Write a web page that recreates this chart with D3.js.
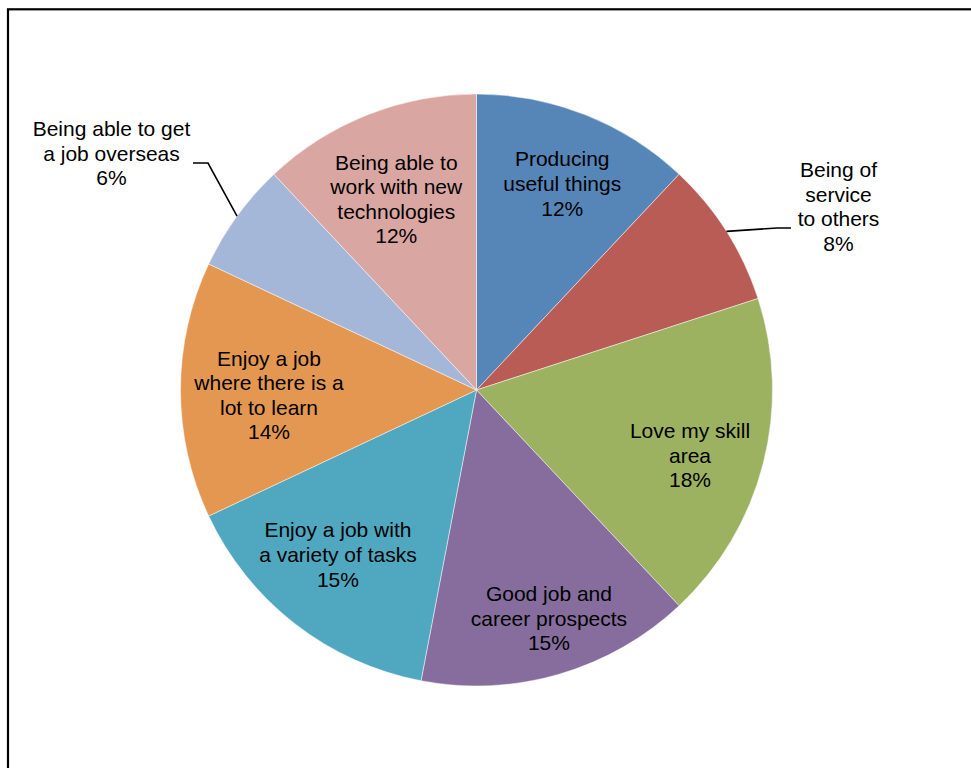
<!DOCTYPE html>
<html>
<head>
<meta charset="utf-8">
<script src="https://cdn.jsdelivr.net/npm/d3@7"></script>
<style>
  html, body { margin: 0; padding: 0; background: #ffffff; }
  svg { display: block; }
  text { font-family: "Liberation Sans", Arial, sans-serif; fill: #000; }
</style>
</head>
<body>
<svg id="chart" width="971" height="768"></svg>
<script>
// Reasons for liking the work, share of responses (%), clockwise from 12 o'clock
const categories = [
  "Producing useful things",
  "Being of service to others",
  "Love my skill area",
  "Good job and career prospects",
  "Enjoy a job with a variety of tasks",
  "Enjoy a job where there is a lot to learn",
  "Being able to get a job overseas",
  "Being able to work with new technologies"
];
const values = [12, 8, 18, 15, 15, 14, 6, 12];

// Label text as wrapped in the chart (percentage line appended when drawn)
const labelLines = [
  ["Producing", "useful things"],
  ["Being of", "service", "to others"],
  ["Love my skill", "area"],
  ["Good job and", "career prospects"],
  ["Enjoy a job with", "a variety of tasks"],
  ["Enjoy a job", "where there is a", "lot to learn"],
  ["Being able to get", "a job overseas"],
  ["Being able to", "work with new", "technologies"]
];

const colors = ["#5685B8", "#B95C56", "#9CB260", "#866D9E", "#50A8C0", "#E39750", "#A5B7D8", "#DAA6A2"];

// ---- layout ----
const width = 971, height = 768;
const cx = 476.5, cy = 390, radius = 296;
const fontSize = 21, lineHeight = 24.6, capHeight = 15;
const labelRadius = 222;

// Inside labels: small nudges from the slice's centroid at labelRadius.
// Outside labels (with leader lines): elbow point, leader end and label centre.
const labelLayout = [
  { nudge: [4, 0] },
  { outside: true, elbow: [777, 228], end: [791, 228], center: [838.5, 206.5] },
  { nudge: [-1.5, 10] },
  { nudge: [10.5, 15] },
  { nudge: [-2.5, -11] },
  { nudge: [14.5, 5] },
  { outside: true, elbow: [208, 163], end: [193, 163], center: [111.5, 153] },
  { nudge: [1.5, 15.5] }
];

const svg = d3.select("#chart");

// Chart frame
svg.append("rect")
  .attr("x", 8).attr("y", 9.3)
  .attr("width", 1000).attr("height", 800)
  .attr("fill", "#fff")
  .attr("stroke", "#000")
  .attr("stroke-width", 2.2);

const pie = d3.pie().sort(null).value(d => d)(values);
const arc = d3.arc().innerRadius(0).outerRadius(radius);
const labelArc = d3.arc().innerRadius(labelRadius).outerRadius(labelRadius);
const edgeArc = d3.arc().innerRadius(radius).outerRadius(radius);

const g = svg.append("g").attr("transform", `translate(${cx},${cy})`);

g.selectAll("path.slice")
  .data(pie)
  .join("path")
  .attr("class", "slice")
  .attr("d", arc)
  .attr("fill", (d, i) => colors[i])
  .attr("stroke", "#ffffff")
  .attr("stroke-opacity", 0.6)
  .attr("stroke-width", 0.8);

// Draw a multi-line, centred text block whose visual middle sits at (x, y)
function textBlock(x, y, lines) {
  const n = lines.length;
  const blockH = capHeight + (n - 1) * lineHeight;
  const firstBase = y - blockH / 2 + capHeight;
  const t = svg.append("text")
    .attr("text-anchor", "middle")
    .attr("font-size", fontSize);
  lines.forEach((ln, k) => {
    t.append("tspan")
      .attr("x", x)
      .attr("y", firstBase + k * lineHeight)
      .text(ln);
  });
}

pie.forEach((d, i) => {
  const lay = labelLayout[i];
  const lines = labelLines[i].concat([values[i] + "%"]);
  if (lay.outside) {
    const p = edgeArc.centroid(d);
    const start = [cx + p[0], cy + p[1]];
    svg.append("path")
      .attr("d", d3.line()([start, lay.elbow, lay.end]))
      .attr("fill", "none")
      .attr("stroke", "#000")
      .attr("stroke-width", 1.6);
    textBlock(lay.center[0], lay.center[1], lines);
  } else {
    const c = labelArc.centroid(d);
    textBlock(cx + c[0] + lay.nudge[0], cy + c[1] + lay.nudge[1], lines);
  }
});
</script>
</body>
</html>
